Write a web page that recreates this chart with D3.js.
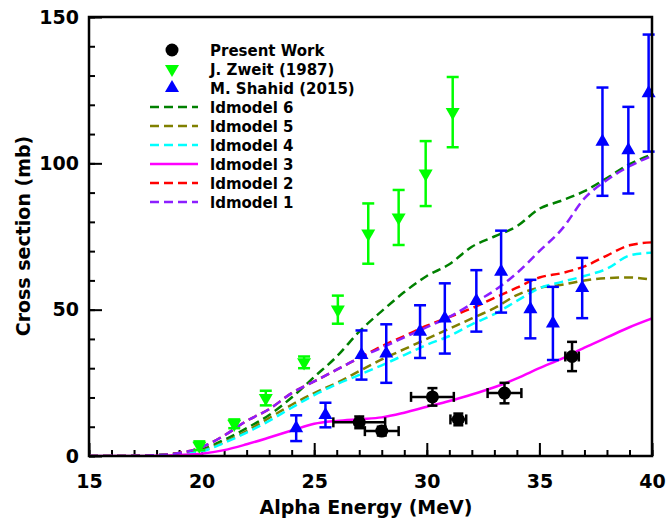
<!DOCTYPE html>
<html>
<head>
<meta charset="utf-8">
<script src="https://cdn.jsdelivr.net/npm/d3@7"></script>
<style>
  body { margin: 0; background: #fff; }
  svg { display: block; font-family: "DejaVu Sans", sans-serif; font-weight: bold; }
</style>
</head>
<body>
<svg id="chart" width="667" height="519"></svg>
<script>
// energies (MeV) for the model curves
var modelEnergy = [15, 16, 17, 18, 19, 20, 21, 22, 23, 24, 25, 26, 27, 28, 29, 30, 31, 32, 33, 34, 35, 36, 37, 38, 39, 40];

var ldmodel6 = [0, 0, 0.05, 0.3, 1.0, 2.2, 5.5, 9.5, 14, 20, 27, 34, 42.5, 49.5, 56, 61.5, 65.5, 71.5, 75, 78.5, 84.5, 87.3, 90.5, 95, 99.7, 103];
var ldmodel5 = [0, 0, 0.05, 0.3, 0.9, 1.8, 4.8, 8.5, 13, 17.5, 21.5, 25, 29, 33, 36.5, 40, 43.5, 47, 50.5, 55, 57.5, 58.5, 60, 60.8, 61, 60.2];
var ldmodel4 = [0, 0, 0.05, 0.3, 0.8, 1.6, 4.5, 8, 12, 16.5, 20.8, 24.5, 27.7, 31, 34.5, 38, 41, 45, 48.5, 53, 57.3, 59.5, 61.5, 64, 68.5, 69.5];
var ldmodel3 = [0, 0, 0.02, 0.1, 0.35, 0.8, 2, 4, 6.3, 8.7, 11, 12, 12.6, 13.2, 14.8, 16.8, 18.8, 21, 23.5, 26.5, 30, 33.3, 37, 40.5, 44, 47];
var ldmodel2 = [0, 0, 0.05, 0.3, 1.0, 3, 7, 12, 16, 21.5, 25.5, 29.5, 33.5, 37.5, 41, 44.5, 47.5, 50.5, 54, 57.5, 61, 62.5, 64.8, 68.5, 72, 73];
var ldmodel1 = [0, 0, 0.05, 0.3, 1.0, 3, 7, 12, 16, 21.5, 25.5, 29.5, 33.5, 37, 40.5, 44, 47.5, 52, 56.5, 62.5, 70, 77.5, 88, 94.3, 99, 102.5];

// Present Work: energy, energy error, cross section, cross section error
var presentE = [27.0, 28.0, 30.25, 31.4, 33.45, 36.45];
var presentEErr = [1.15, 0.75, 0.95, 0.35, 0.75, 0.3];
var presentSigma = [11.5, 8.5, 20.2, 12.5, 21.5, 34];
var presentSigmaErr = [2, 1.5, 3, 2, 3.5, 5];

// J. Zweit (1987)
var zweitE = [19.9, 21.45, 22.85, 24.55, 26.05, 27.4, 28.75, 29.95, 31.15];
var zweitSigma = [3.5, 11, 19.8, 32, 50, 76, 81.5, 96.5, 117.5];
var zweitSigmaErr = [1.5, 1.5, 2.5, 2, 4.8, 10.3, 9.4, 11.1, 12];

// M. Shahid (2015)
var shahidE = [24.2, 25.5, 27.1, 28.2, 29.7, 30.8, 32.2, 33.3, 34.6, 35.6, 36.9, 37.8, 38.95, 39.85];
var shahidSigma = [9.5, 14, 34.5, 35, 42.5, 47, 53, 63, 50.2, 45.3, 57.4, 107.4, 104.5, 124];
var shahidSigmaErr = [4.4, 4.2, 8.4, 10, 9, 12, 10.5, 14, 10, 12.5, 10.3, 18.5, 14.8, 20];

var models = [
  {name: 'ldmodel 6', values: ldmodel6, color: '#008000', dash: '9,5'},
  {name: 'ldmodel 5', values: ldmodel5, color: '#808000', dash: '9,5'},
  {name: 'ldmodel 4', values: ldmodel4, color: '#00ffff', dash: '9,5'},
  {name: 'ldmodel 3', values: ldmodel3, color: '#ff00ff', dash: null},
  {name: 'ldmodel 2', values: ldmodel2, color: '#ff0000', dash: '9,5'},
  {name: 'ldmodel 1', values: ldmodel1, color: '#8c1eff', dash: '9,5'}
];

var svg = d3.select('#chart');
var plotLeft = 89, plotRight = 652, plotTop = 17, plotBottom = 456;

var x = d3.scaleLinear().domain([15, 40]).range([plotLeft, plotRight]);
var y = d3.scaleLinear().domain([0, 150]).range([plotBottom, plotTop]);

svg.append('defs').append('clipPath').attr('id', 'plotclip')
  .append('rect')
    .attr('x', plotLeft).attr('y', plotTop)
    .attr('width', plotRight - plotLeft).attr('height', plotBottom - plotTop);

// Axes: minor ticks first, then major ticks with labels (ticks point inward).
svg.append('g')
  .attr('transform', 'translate(0,' + plotBottom + ')')
  .call(d3.axisBottom(x).tickValues(d3.range(15, 41, 1)).tickSize(-6).tickFormat(''))
  .call(function(g) { g.select('.domain').remove(); });

svg.append('g')
  .attr('class', 'x-axis')
  .attr('transform', 'translate(0,' + plotBottom + ')')
  .call(d3.axisBottom(x).tickValues([15, 20, 25, 30, 35, 40]).tickSize(-13).tickPadding(19).tickFormat(d3.format('d')))
  .call(function(g) { g.select('.domain').remove(); });

svg.append('g')
  .attr('transform', 'translate(' + plotLeft + ',0)')
  .call(d3.axisLeft(y).tickValues(d3.range(0, 151, 10)).tickSize(-6).tickFormat(''))
  .call(function(g) { g.select('.domain').remove(); });

svg.append('g')
  .attr('class', 'y-axis')
  .attr('transform', 'translate(' + plotLeft + ',0)')
  .call(d3.axisLeft(y).tickValues([0, 50, 100, 150]).tickSize(-13).tickPadding(10).tickFormat(d3.format('d')))
  .call(function(g) { g.select('.domain').remove(); });

svg.selectAll('.tick line').attr('stroke', '#000').attr('stroke-width', 2);
svg.selectAll('.tick text')
  .attr('fill', '#000')
  .style('font-size', '19px')
  .style('font-weight', 'bold')
  .style('font-family', '"DejaVu Sans", sans-serif');

// Model curves
var line = d3.line()
  .x(function(d, i) { return x(modelEnergy[i]); })
  .y(function(d) { return y(d); })
  .curve(d3.curveMonotoneX);

var curves = svg.append('g').attr('clip-path', 'url(#plotclip)');
models.forEach(function(m) {
  curves.append('path')
    .attr('d', line(m.values))
    .attr('fill', 'none')
    .attr('stroke', m.color)
    .attr('stroke-width', 2.5)
    .attr('stroke-dasharray', m.dash);
});

// Error bar helpers
function vErr(g, cx, lo, hi, color, cap) {
  g.append('line').attr('x1', cx).attr('x2', cx).attr('y1', lo).attr('y2', hi)
    .attr('stroke', color).attr('stroke-width', 2.5);
  [lo, hi].forEach(function(v) {
    g.append('line').attr('x1', cx - cap).attr('x2', cx + cap).attr('y1', v).attr('y2', v)
      .attr('stroke', color).attr('stroke-width', 2.5);
  });
}
function hErr(g, cy, lo, hi, color, cap) {
  g.append('line').attr('x1', lo).attr('x2', hi).attr('y1', cy).attr('y2', cy)
    .attr('stroke', color).attr('stroke-width', 2.5);
  [lo, hi].forEach(function(v) {
    g.append('line').attr('x1', v).attr('x2', v).attr('y1', cy - cap).attr('y2', cy + cap)
      .attr('stroke', color).attr('stroke-width', 2.5);
  });
}

var triUp = d3.symbol().type(d3.symbolTriangle).size(85)();

// Zweit
var zg = svg.append('g');
zweitE.forEach(function(e, i) {
  var cx = x(e), cy = y(zweitSigma[i]);
  vErr(zg, cx, y(zweitSigma[i] - zweitSigmaErr[i]), y(zweitSigma[i] + zweitSigmaErr[i]), '#00ff00', 6);
  zg.append('path').attr('d', triUp)
    .attr('transform', 'translate(' + cx + ',' + cy + ') rotate(180)')
    .attr('fill', '#00ff00');
});

// Shahid
var sg = svg.append('g');
shahidE.forEach(function(e, i) {
  var cx = x(e), cy = y(shahidSigma[i]);
  vErr(sg, cx, y(shahidSigma[i] - shahidSigmaErr[i]), y(shahidSigma[i] + shahidSigmaErr[i]), '#0000ff', 6);
  sg.append('path').attr('d', triUp)
    .attr('transform', 'translate(' + cx + ',' + cy + ')')
    .attr('fill', '#0000ff');
});

// Present work
var pg = svg.append('g');
presentE.forEach(function(e, i) {
  var cx = x(e), cy = y(presentSigma[i]);
  hErr(pg, cy, x(e - presentEErr[i]), x(e + presentEErr[i]), '#000', 5);
  vErr(pg, cx, y(presentSigma[i] - presentSigmaErr[i]), y(presentSigma[i] + presentSigmaErr[i]), '#000', 5);
  pg.append('circle').attr('cx', cx).attr('cy', cy).attr('r', 6.5).attr('fill', '#000');
});

// Frame
svg.append('rect')
  .attr('x', plotLeft).attr('y', plotTop)
  .attr('width', plotRight - plotLeft).attr('height', plotBottom - plotTop)
  .attr('fill', 'none').attr('stroke', '#000').attr('stroke-width', 2.5);

// Axis titles
svg.append('text')
  .attr('x', 366).attr('y', 514)
  .attr('text-anchor', 'middle')
  .style('font-size', '19px')
  .text('Alpha Energy (MeV)');

svg.append('text')
  .attr('transform', 'translate(30,236) rotate(-90)')
  .attr('text-anchor', 'middle')
  .style('font-size', '19px')
  .text('Cross section (mb)');

// Legend
var legendItems = [
  {name: 'Present Work', kind: 'circle', color: '#000'},
  {name: 'J. Zweit (1987)', kind: 'down', color: '#00ff00'},
  {name: 'M. Shahid (2015)', kind: 'up', color: '#0000ff'}
].concat(models.map(function(m) { return {name: m.name, kind: 'line', color: m.color, dash: m.dash}; }));

var legend = svg.append('g').attr('transform', 'translate(150,50)');
var rows = legend.selectAll('g')
  .data(legendItems)
  .enter()
  .append('g')
    .attr('transform', function(d, i) { return 'translate(0,' + (i * 19) + ')'; });

rows.each(function(d) {
  var g = d3.select(this);
  if (d.kind === 'line') {
    g.append('line').attr('x1', 0).attr('x2', 48).attr('y1', 0).attr('y2', 0)
      .attr('stroke', d.color).attr('stroke-width', 2.5).attr('stroke-dasharray', d.dash);
  } else if (d.kind === 'circle') {
    g.append('circle').attr('cx', 22).attr('cy', 0).attr('r', 6.5).attr('fill', d.color);
  } else {
    g.append('path').attr('d', triUp)
      .attr('transform', 'translate(22,0)' + (d.kind === 'down' ? ' rotate(180)' : ''))
      .attr('fill', d.color);
  }
});

rows.append('text')
  .attr('x', 60)
  .attr('y', 5.5)
  .style('font-size', '15px')
  .text(function(d) { return d.name; });
</script>
</body>
</html>
